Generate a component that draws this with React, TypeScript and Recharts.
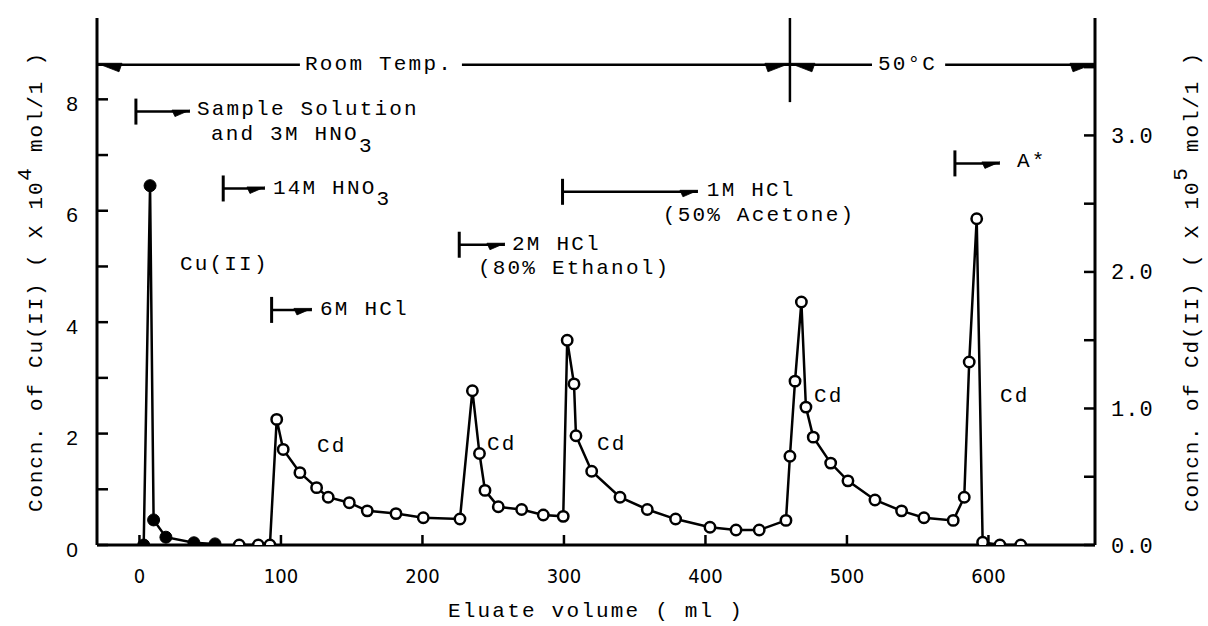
import React from 'react';
import { ComposedChart, Line, Scatter, XAxis, YAxis } from 'recharts';

const W = 1208;
const H = 626;
const MONO = "'Liberation Mono', 'DejaVu Sans Mono', monospace";
const SANS = "'Liberation Sans', Arial, sans-serif";
const NARROW = "'Liberation Sans Narrow', 'DejaVu Sans Condensed', sans-serif";

// ---- data: Cu(II) (left axis, x 10^4 mol/l) ----
const cuVolume = [3, 7.5, 10, 18.7, 38.5, 53.4];
const cuConc = [0, 6.45, 0.45, 0.14, 0.04, 0.02];

// ---- data: Cd(II) (right axis, x 10^5 mol/l) ----
const cdVolume = [70.5, 84, 92.2, 97, 101.6, 113.4, 125.2, 133.4, 148.3, 161, 181.3, 200.6, 226.5,
  235.3, 240.3, 244.2, 253.6, 270.1, 285.4, 299.5,
  302.3, 307.1, 308.5, 319.6, 339.6, 358.9, 378.9, 403.2, 421.6, 438, 456.9,
  459.7, 463.3, 467.8, 471, 476.2, 488.5, 500.7, 519.8, 538.6, 554.4, 575.1,
  582.9, 586.4, 591.7, 595.9, 608.1, 622.8];
const cdConc = [0, 0, 0, 0.92, 0.70, 0.53, 0.42, 0.35, 0.31, 0.25, 0.23, 0.20, 0.19,
  1.13, 0.67, 0.40, 0.28, 0.26, 0.22, 0.21,
  1.50, 1.18, 0.80, 0.54, 0.35, 0.26, 0.19, 0.13, 0.11, 0.11, 0.18,
  0.65, 1.20, 1.78, 1.01, 0.79, 0.60, 0.47, 0.33, 0.25, 0.20, 0.18,
  0.35, 1.34, 2.39, 0.02, 0, 0];

// ---- axes ----
const xDomain = [-30, 675.3];
const leftDomain = [0, 9.46];
const rightDomain = [0, 3.86];
const xTicks = [0, 100, 200, 300, 400, 500, 600];
const leftTicks = [0, 1, 2, 3, 4, 5, 6, 7, 8];
const leftTickLabels = [0, 2, 4, 6, 8];
const rightTicks = [0, 0.5, 1, 1.5, 2, 2.5, 3, 3.5];
const rightTickLabels = [0, 1, 2, 3];

// ---- eluent annotations (left-axis units) ----
const eluentStart = [-2.5, 59.2, 93.4, 226, 299, 576.3];
const eluentEnd = [35.7, 88.7, 121.9, 258.3, 394.7, 608.1];
const eluentLevel = [7.78, 6.40, 4.22, 5.39, 6.34, 6.85];

// ---- temperature annotations ----
const tempLevel = 8.62;
const tempSegStart = [-30, 227.9, 459.7, 569.4];
const tempSegEnd = [113.4, 459.7, 517.7, 675.3];
const tempArrowX = [-30, 459.7, 459.7, 675.3];
const tempArrowDir = ['l', 'r', 'l', 'r'];
const tempSwitchX = 459.7;
const tempSwitchLow = 7.95;

// ---- text labels ----
const labelTexts = ['Sample Solution', 'and 3M HNO', '14M HNO', '6M HCl', '2M HCl', '(80% Ethanol)',
  '1M HCl', '(50% Acetone)', 'A*', 'Cu(II)', 'Room Temp.', '50°C'];
const labelSubs = ['', '3', '3', '', '', '', '', '', '', '', '', ''];
const labelX = [40.6, 50.5, 94.3, 127.6, 263.3, 239.2, 401, 369.9, 620.1, 28.6, 117, 521.9];
const labelY = [7.81, 7.36, 6.40, 4.22, 5.40, 4.96, 6.37, 5.91, 6.88, 5.03, 8.62, 8.62];

const cdLabelX = [125.4, 245.6, 323.3, 476.7, 608.1];
const cdLabelY = [1.76, 1.80, 1.80, 2.67, 2.67];

const textStyle = { fontFamily: MONO, fontSize: 21, letterSpacing: 2.2, fill: '#000' };

function wedge(cx: number, cy: number, dir: string, L: number, T: number) {
  const s = dir === 'r' ? -1 : 1;
  const pts = `${cx},${cy - 1.5} ${cx + s * L},${cy - 1.5} ${cx + s * (L - 3)},${cy + T}`;
  return <polygon points={pts} fill="#000" stroke="#000" strokeWidth={0.8} />;
}

function markerShape(props: any) {
  const { cx, cy, payload } = props;
  if (cx == null || cy == null) return <g />;
  if (payload.kind === 'bar') {
    return <line x1={cx} x2={cx} y1={cy - 13} y2={cy + 13} stroke="#000" strokeWidth={3} />;
  }
  if (payload.kind === 'head') {
    return wedge(cx, cy, payload.dir, payload.big ? 25 : 18, payload.big ? 7 : 5);
  }
  if (payload.kind === 'text') {
    return (
      <text x={cx} y={cy} dominantBaseline="central" textAnchor="start" style={textStyle}>
        {payload.text}
        {payload.sub ? <tspan dy={11}>{payload.sub}</tspan> : null}
      </text>
    );
  }
  return <g />;
}

function XTick(props: any) {
  const { x, y, payload } = props;
  return (
    <g>
      <line x1={x} x2={x} y1={y} y2={y - 10} stroke="#000" strokeWidth={2.5} />
      <text x={x} y={y + 38} textAnchor="middle" style={{ fontFamily: NARROW, fontSize: 20, fill: '#000' }}>
        {payload.value}
      </text>
    </g>
  );
}

function LeftTick(props: any) {
  const { x, y, payload } = props;
  const show = leftTickLabels.includes(payload.value);
  return (
    <g>
      <line x1={x} x2={x + 11} y1={y} y2={y} stroke="#000" strokeWidth={2.5} />
      {show ? (
        <text x={x - 25} y={y + 4} textAnchor="middle" dominantBaseline="central"
          style={{ fontFamily: SANS, fontSize: 21, fill: '#000' }}>{payload.value}</text>
      ) : null}
    </g>
  );
}

function RightTick(props: any) {
  const { x, y, payload } = props;
  const show = rightTickLabels.includes(payload.value);
  return (
    <g>
      <line x1={x} x2={x - 11} y1={y} y2={y} stroke="#000" strokeWidth={2.5} />
      {show ? (
        <text x={x + 16} y={y + 2} textAnchor="start" dominantBaseline="central"
          style={{ fontFamily: MONO, fontSize: 22, letterSpacing: 1, fill: '#000' }}>{Number(payload.value).toFixed(1)}</text>
      ) : null}
    </g>
  );
}

function XTitle(props: any) {
  const vb = props.viewBox || { x: 97, y: 545, width: 998, height: 81 };
  return (
    <text x={vb.x + vb.width / 2} y={vb.y + 66} textAnchor="middle" dominantBaseline="central" style={textStyle}>
      Eluate volume ( ml )
    </text>
  );
}

function YTitle(cx: number, cy: number, base: string, sup: string) {
  return (
    <text x={cx} y={cy} textAnchor="middle" dominantBaseline="central" transform={`rotate(-90, ${cx}, ${cy})`}
      style={{ ...textStyle, letterSpacing: 1.8 }}>
      {base}
      <tspan dy={-11}>{sup}</tspan>
      <tspan dy={11}> mol/1 )</tspan>
    </text>
  );
}

function LeftTitle(props: any) {
  const vb = props.viewBox || { x: 0, y: 18, width: 97, height: 527 };
  return YTitle(vb.x + 36, vb.y + vb.height / 2, 'Concn. of Cu(II) ( X 10', '4');
}

function RightTitle(props: any) {
  const vb = props.viewBox || { x: 1095, y: 18, width: 113, height: 527 };
  return YTitle(vb.x + 97, vb.y + vb.height / 2, 'Concn. of Cd(II) ( X 10', '5');
}

export default function App() {
  const cuData = cuVolume.map((x, i) => ({ x, y: cuConc[i] }));
  const cdData = cdVolume.map((x, i) => ({ x, y: cdConc[i] }));

  const markers: any[] = [];
  eluentStart.forEach((x, i) => {
    markers.push({ x, y: eluentLevel[i], kind: 'bar' });
    markers.push({ x: eluentEnd[i], y: eluentLevel[i], kind: 'head', dir: 'r', big: false });
  });
  tempArrowX.forEach((x, i) => {
    markers.push({ x, y: tempLevel, kind: 'head', dir: tempArrowDir[i], big: true });
  });
  labelTexts.forEach((t, i) => {
    markers.push({ x: labelX[i], y: labelY[i], kind: 'text', text: t, sub: labelSubs[i] });
  });
  cdLabelX.forEach((x, i) => {
    markers.push({ x, y: cdLabelY[i], kind: 'text', text: 'Cd', sub: '' });
  });

  const segs: { x: number; y: number }[][] = [];
  eluentStart.forEach((x, i) => segs.push([{ x, y: eluentLevel[i] }, { x: eluentEnd[i], y: eluentLevel[i] }]));
  tempSegStart.forEach((x, i) => segs.push([{ x, y: tempLevel }, { x: tempSegEnd[i], y: tempLevel }]));
  segs.push([{ x: tempSwitchX, y: tempSwitchLow }, { x: tempSwitchX, y: leftDomain[1] }]);

  return (
    <div style={{ position: 'absolute', left: 0, top: 0, width: W, height: H, background: '#fff' }}>
      <ComposedChart width={W} height={H} margin={{ top: 18, right: 0, bottom: 0, left: 0 }}>
        <XAxis type="number" dataKey="x" domain={xDomain} allowDataOverflow ticks={xTicks} interval={0}
          height={81} tickLine={false} tickSize={0} tickMargin={0}
          axisLine={{ stroke: '#000', strokeWidth: 3 }} tick={XTick} label={{ content: XTitle }} />
        <XAxis xAxisId="top" orientation="top" type="number" dataKey="x" domain={xDomain} allowDataOverflow
          height={0} tick={false} tickLine={false} axisLine={{ stroke: '#000', strokeWidth: 3 }} />
        <YAxis yAxisId="left" type="number" dataKey="y" domain={leftDomain} allowDataOverflow ticks={leftTicks}
          interval={0} width={97} tickLine={false} tickSize={0} tickMargin={0}
          axisLine={{ stroke: '#000', strokeWidth: 3 }} tick={LeftTick} label={{ content: LeftTitle }} />
        <YAxis yAxisId="right" orientation="right" type="number" dataKey="y" domain={rightDomain} allowDataOverflow
          ticks={rightTicks} interval={0} width={113} tickLine={false} tickSize={0} tickMargin={0}
          axisLine={{ stroke: '#000', strokeWidth: 3 }} tick={RightTick} label={{ content: RightTitle }} />

        {segs.map((s, i) => (
          <Line key={`seg${i}`} yAxisId="left" data={s} dataKey="y" type="linear" stroke="#000" strokeWidth={2.5}
            dot={false} activeDot={false} isAnimationActive={false} />
        ))}

        <Line yAxisId="right" data={cdData} dataKey="y" type="linear" stroke="#000" strokeWidth={2.5}
          dot={{ r: 5.2, fill: '#fff', stroke: '#000', strokeWidth: 2.5 }} activeDot={false} isAnimationActive={false} />
        <Line yAxisId="left" data={cuData} dataKey="y" type="linear" stroke="#000" strokeWidth={2.5}
          dot={{ r: 6, fill: '#000', stroke: '#000', strokeWidth: 1 }} activeDot={false} isAnimationActive={false} />

        <Scatter yAxisId="left" data={markers} dataKey="y" shape={markerShape} isAnimationActive={false} />
      </ComposedChart>
    </div>
  );
}
